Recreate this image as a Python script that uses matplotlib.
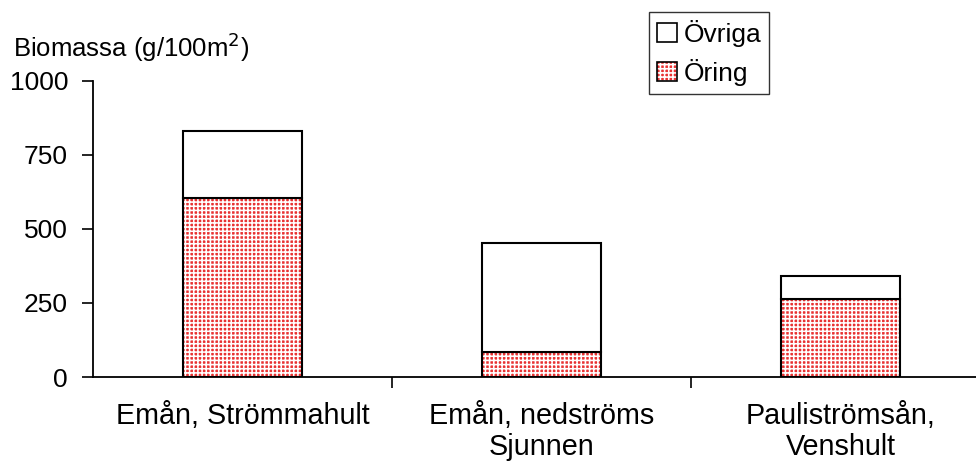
import matplotlib.pyplot as plt
from matplotlib.patches import Patch

plt.rcParams['font.family'] = ['Liberation Sans', 'DejaVu Sans']
plt.rcParams['hatch.linewidth'] = 1.15

sites = ['Emån, Strömmahult', 'Emån, nedströms\nSjunnen', 'Pauliströmsån,\nVenshult']
oring = [605, 84, 263]
ovriga = [226, 369, 78]

fig = plt.figure(figsize=(9.76, 4.61), dpi=100)
ax = fig.add_axes([93 / 976, 84 / 461, 897 / 976, 296 / 461])

x = range(len(sites))
w = 0.4
red = '#e83232'
check = '++++'

# checkered red fill, then black outlines on top
ax.bar(x, oring, w, color=red, edgecolor='white', linewidth=0, hatch=check)
ax.bar(x, oring, w, fill=False, edgecolor='black', linewidth=1.5)
ax.bar(x, ovriga, w, bottom=oring, color='white', edgecolor='black', linewidth=1.5)

ax.set_xlim(-0.5, 2.5)
ax.set_ylim(0, 1000)
ax.set_yticks([0, 250, 500, 750, 1000])
ax.set_xticks([0.5, 1.5, 2.5], minor=False)
ax.set_xticklabels([])
ax.set_xticks(list(x), minor=True)
ax.set_xticklabels(sites, minor=True, fontsize=20.7, linespacing=1.12)
ax.tick_params(axis='x', which='minor', length=0, pad=18)
ax.tick_params(axis='x', which='major', length=8, width=1.2, direction='out')
ax.tick_params(axis='y', length=8, width=1.2, direction='out', labelsize=19, pad=10)

for s in ['top', 'right']:
    ax.spines[s].set_visible(False)
for s in ['left', 'bottom']:
    ax.spines[s].set_linewidth(1.3)

fig.text(13 / 976, 1 - 47 / 461, 'Biomassa (g/100m$^2$)', fontsize=18.5, va='center', ha='left')

h_ovr = Patch(facecolor='white', edgecolor='black', linewidth=1.2)
h_or = (Patch(facecolor=red, edgecolor='white', linewidth=0, hatch=check),
        Patch(fill=False, edgecolor='black', linewidth=1.2))
leg = fig.legend([h_ovr, h_or], ['Övriga', 'Öring'],
                 loc='upper left', bbox_to_anchor=(649 / 976, 1 - 12 / 461),
                 fontsize=19, frameon=True, fancybox=False, edgecolor='black',
                 handlelength=0.75, handleheight=0.75, handletextpad=0.25,
                 borderpad=0.3, labelspacing=0.45, borderaxespad=0)
leg.get_frame().set_linewidth(1.0)

fig.savefig('out.png', dpi=100)
